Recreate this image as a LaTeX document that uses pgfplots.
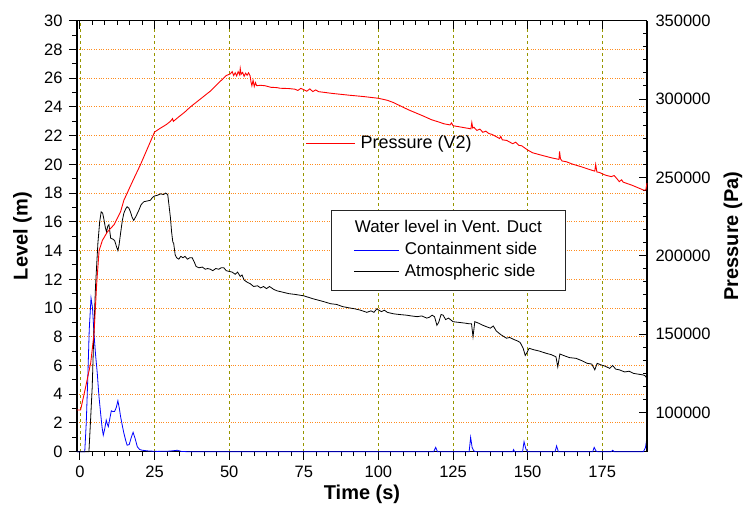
\documentclass[border=0pt]{standalone}
\usepackage{pgfplots}
\pgfplotsset{compat=1.18}
\usepackage{fontspec}
\setmainfont{Liberation Sans}
\definecolor{gridorange}{RGB}{255,140,30}
\definecolor{gridolive}{RGB}{150,150,0}
\begin{document}
\begin{tikzpicture}
\begin{axis}[
  name=main,
  scale only axis, width=570pt, height=431pt,
  xmin=-1, xmax=190, ymin=0, ymax=30,
  axis x line*=bottom, axis y line*=left,
  xtick={0,25,...,175}, minor x tick num=5,
  ytick={0,2,...,30}, minor y tick num=1,
  tick align=outside,
  major tick length=8pt, minor tick length=4.5pt,
  tick style={black, line width=1pt},
  axis line style={line width=1.2pt},
  xmajorgrids, ymajorgrids,
  x grid style={gridolive, dashed, line width=0.8pt},
  y grid style={gridorange, dotted, line width=1pt},
  /pgf/number format/assume math mode=true,
  ticklabel style={font=\fontsize{16.5}{19}\selectfont},
  xticklabel style={yshift=-3pt},
  yticklabel style={xshift=-3pt},
  label style={font=\fontsize{20}{24}\selectfont\bfseries},
  xlabel={Time (s)}, ylabel={Level (m)},
  xlabel style={at={(axis description cs:0.5,-0.1)}, anchor=center},
  ylabel style={at={(axis description cs:-0.0956,0.5)}, anchor=center},
  clip=false,
  legend cell align=left,
  legend style={at={(axis description cs:0.445,0.5615)}, anchor=north west,
    draw=black!85, line width=0.8pt, fill=white, inner xsep=23pt, inner ysep=10.5pt,
    row sep=5.9pt, column sep=5pt,
    nodes={inner sep=0pt, text height=12.3pt, text depth=3.5pt},
    font=\fontsize{17}{20}\selectfont},
  legend image code/.code={\draw[#1, line width=0.8pt] (0pt,0pt) -- (45pt,0pt);},
]
\addlegendimage{empty legend}
\addlegendentry{\hspace*{-50pt}Water level in Vent. Duct}
\addplot[blue, line width=0.8pt] coordinates {
(-1,0)(1.6,0)(2.1,2)(2.6,5)(3.1,8.5)(3.7,10.7)(4.2,10)(4.7,8.2)(5.2,6.8)(5.8,5.45)(6.3,4)(6.9,2.7)(7.4,1.7)(7.8,1.15)(8.3,1.6)(8.8,2.2)(9.2,1.9)(9.5,1.75)(10.0,2.3)(10.5,2.85)(11.0,2.8)(11.6,2.8)(12.2,3.1)(12.7,3.55)(13.2,3.0)(13.6,2.45)(14.2,1.8)(14.7,1.3)(15.3,0.8)(15.8,0.45)(16.5,0.5)(17.2,1.0)(17.8,1.35)(18.5,0.9)(19.2,0.35)(20,0.15)(20.9,0.1)(23,0.05)(26,0.02)(30,0.04)(32.6,0.1)(34,0.02)(36,0)(118.5,0)(119.2,0.3)(119.8,0)(130.4,0)(130.9,1.0)(131.4,0.3)(132,0.05)(132.8,0)(145,0)(145.3,0.15)(145.6,0)(148.3,0)(148.8,0.7)(149.4,0.2)(150,0)(159.2,0)(159.7,0.4)(160.3,0)(171.8,0)(172.3,0.3)(172.9,0.05)(173.5,0)(178,0)(178.5,0.1)(179,0)(188.8,0)(189.5,0.3)(190,1.0)
};
\addlegendentry{Containment side}
\addplot[black, line width=0.8pt] coordinates {
(-1,0)(3.0,0)(3.5,2)(4.1,4.5)(4.6,8)(5.2,11.5)(6.0,14.5)(6.6,16)(7.1,16.7)(7.6,16.6)(8.0,16.2)(8.5,15.6)(8.9,15.3)(9.3,15.7)(9.7,15.8)(10.3,14.85)(11.0,14.8)(11.6,14.7)(12.2,14.3)(12.7,14.0)(13.1,14.4)(13.6,15.2)(14.2,16.1)(14.7,16.6)(15.3,16.9)(15.8,17.05)(16.4,16.95)(16.9,16.7)(17.5,16.3)(18.0,16.1)(18.8,16.4)(19.7,16.8)(20.5,17.2)(21.4,17.4)(22.5,17.45)(23.6,17.5)(24.3,17.7)(25,17.8)(26,17.85)(27,17.95)(28,17.9)(28.7,18.0)(29.4,17.9)(29.8,17.2)(30.3,16.3)(30.7,15.3)(31.1,14.6)(31.4,14.5)(31.9,13.7)(32.4,13.5)(33.1,13.4)(33.8,13.6)(34.5,13.5)(35.2,13.6)(36,13.4)(36.8,13.5)(37.6,13.5)(38.3,13.2)(38.9,12.9)(39.8,12.8)(41,12.85)(42,12.7)(42.8,12.75)(43.7,12.7)(44.5,12.6)(45.5,12.75)(46.5,12.7)(47.3,12.8)(48.2,12.8)(49,12.6)(50,12.55)(51,12.5)(52,12.35)(52.8,12.5)(53.7,12.2)(54.3,12.3)(55,11.95)(56,11.8)(57,11.7)(58.2,11.5)(59.5,11.55)(60.5,11.4)(61.5,11.5)(62.5,11.35)(63.5,11.5)(64.9,11.3)(66,11.2)(68,11.1)(70,11.0)(72,10.95)(75,10.85)(78,10.65)(81.6,10.45)(84,10.3)(86,10.25)(88,10.1)(90.5,10.0)(92,9.95)(94,9.85)(96.1,9.7)(97.5,9.8)(98.5,9.7)(99.5,9.95)(100,9.87)(101,9.75)(102,9.85)(103,9.7)(105,9.6)(107,9.55)(109.5,9.5)(111,9.45)(113,9.4)(114.5,9.45)(116.2,9.3)(117,9.35)(118,9.5)(118.8,9.4)(119.6,8.8)(120.2,9.0)(121,9.55)(121.7,9.5)(122.5,9.2)(123.5,9.3)(125,9.05)(127,9.0)(129,8.95)(130.5,8.9)(131.2,8.9)(131.7,8.0)(132.3,9.05)(133.5,8.95)(135,8.8)(136.2,8.7)(137.5,8.6)(138.5,8.75)(139.5,8.4)(141,8.15)(142.9,7.9)(144,7.95)(145.5,7.8)(146.7,7.7)(147.5,7.6)(148.5,7.2)(149.2,6.7)(149.8,6.9)(150.5,7.2)(152,7.1)(154,7.0)(156.2,6.85)(158,6.75)(159.5,6.6)(160.1,5.9)(160.8,6.8)(162,6.7)(164,6.55)(166.2,6.5)(168,6.35)(170,6.15)(171.5,6.1)(172.5,5.7)(173.3,6.15)(174.5,6.05)(176,5.95)(177.5,5.8)(178.5,6.0)(179.5,5.75)(180.7,5.7)(182.5,5.55)(184,5.6)(185.5,5.45)(187,5.4)(188.5,5.35)(189.3,5.3)(190,5.1)
};
\addlegendentry{Atmospheric side}
\end{axis}
\begin{axis}[
  scale only axis, width=570pt, height=431pt,
  xmin=-1, xmax=190, ymin=75000, ymax=350000,
  axis x line*=top, axis y line*=right,
  xtick={0,25,...,175}, minor x tick num=5, xticklabels={},
  ytick={100000,150000,...,350000}, minor y tick num=5,
  scaled y ticks=false,
  yticklabel style={/pgf/number format/fixed, /pgf/number format/1000 sep={}, xshift=5pt},
  tick align=inside,
  major tick length=8pt, minor tick length=4.5pt,
  tick style={black, line width=1pt},
  axis line style={line width=1.2pt},
  /pgf/number format/assume math mode=true,
  ticklabel style={font=\fontsize{16.5}{19}\selectfont},
  label style={font=\fontsize{20}{24}\selectfont\bfseries},
  ylabel={Pressure (Pa)},
  ylabel style={at={(axis description cs:1.151,0.5)}, anchor=center},
  clip=false,
  legend style={at={(axis description cs:0.401,0.716)}, anchor=west,
    draw=none, fill=none, inner sep=0pt, column sep=5pt,
    nodes={inner sep=0pt}, font=\fontsize{18}{21}\selectfont},
  legend image code/.code={\draw[#1] (0pt,0pt) -- (49pt,0pt);},
]
\addplot[red, line width=0.9pt] coordinates {
(-1,101600)(0.2,101600)(1.9,116300)(3.6,131800)(4.7,150200)(5.6,182300)(6.4,203300)(7.5,209800)(9.2,215300)(11.4,219800)(13.6,228100)(14.7,235400)(17.5,247000)(20.3,258300)(25,279000)(27,281500)(29,283800)(30.3,285800)(31,287500)(31.3,285800)(33,288500)(35,291500)(37,295000)(40,299500)(43.7,305100)(46,309500)(47.6,312400)(49,315000)(50.4,316100)(51,317500)(51.5,315000)(52,316800)(52.5,314800)(53,317500)(53.5,315500)(53.7,319500)(54,315800)(54.5,317000)(55,314500)(55.5,316500)(56,315200)(56.5,316800)(57,314800)(57.3,311000)(57.6,308500)(58,312000)(58.4,308000)(58.8,310500)(59.2,308500)(60.4,308800)(62,308500)(64,307500)(66,307300)(67,306900)(70,306700)(72,306300)(73,305500)(74,306800)(75,306000)(76,305000)(77,306500)(78,304800)(79,305800)(80,304700)(85,303500)(90,302500)(95,301600)(100,300500)(103,299200)(105,297800)(110,293200)(115,289200)(117.8,286800)(120,285500)(122,284200)(124,283500)(124.5,284800)(125,283000)(128,282000)(131,281000)(131.3,285000)(131.6,281500)(132,282000)(133,280000)(134,280800)(135,278800)(136,279500)(137,278000)(138,277500)(139,276500)(140.6,274800)(141,276200)(141.5,274000)(143,273600)(145,271500)(146,272500)(147,270500)(148,270200)(150,267500)(151.7,265700)(155,264000)(158,262500)(160.5,261500)(160.7,266600)(161,262000)(161.5,260500)(163,260000)(165,258500)(168,256800)(170,255500)(172.5,254000)(172.8,258300)(173.2,253500)(174,253200)(176,251500)(178,250500)(179,251200)(180,249000)(180.7,247300)(181.5,248500)(182,247000)(185,245000)(189,241800)(189.6,242000)(190,246400)
};
\addlegendentry{Pressure (V2)}
\end{axis}
\pgfresetboundingbox
\path[use as bounding box] ([xshift=-77pt,yshift=-65pt]main.south west) rectangle ([xshift=97pt,yshift=20.7pt]main.north east);
\end{tikzpicture}
\end{document}
